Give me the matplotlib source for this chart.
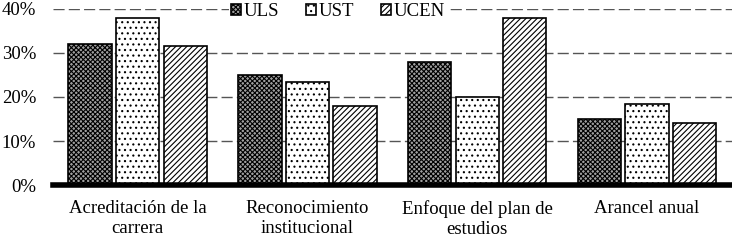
import matplotlib
matplotlib.use("Agg")
import matplotlib.pyplot as plt
import numpy as np

plt.rcParams['font.family'] = ['Liberation Serif', 'DejaVu Serif']
plt.rcParams['hatch.linewidth'] = 0.8

categories = ['Acreditación de la\ncarrera', 'Reconocimiento\ninstitucional',
              'Enfoque del plan de\nestudios', 'Arancel anual']
series_names = ['ULS', 'UST', 'UCEN']
uls = [32, 25, 28, 15]
ust = [38, 23.5, 20, 18.5]
ucen = [31.5, 18, 38, 14]
yticks = [0, 10, 20, 30, 40]

hatches = ['xxxxxxx', '...', '//////']
facecolors = ['#a0a0a0', 'white', 'white']

fig = plt.figure(figsize=(7.32, 2.4), dpi=100)
ax = fig.add_axes([0.072, 0.229, 0.928, 0.734])

x = np.arange(len(categories))
width = 0.255
step = 0.28
for i, (name, vals) in enumerate(zip(series_names, [uls, ust, ucen])):
    ax.bar(x + (i - 1) * step, vals, width, label=name, facecolor=facecolors[i],
           edgecolor='black', hatch=hatches[i], linewidth=1.2, zorder=3)

ax.set_xlim(-0.5, len(categories) - 0.5)
ax.set_ylim(0, 40)
ax.set_yticks(yticks)
ax.set_yticklabels([f'{t}%' for t in yticks], fontsize=13.5)
ax.set_xticks(x)
ax.set_xticklabels(categories, fontsize=13.5, linespacing=1.22)
ax.tick_params(axis='both', length=0)
ax.tick_params(axis='y', pad=12)
ax.tick_params(axis='x', pad=11)

for s in ['top', 'right', 'left']:
    ax.spines[s].set_visible(False)
ax.spines['bottom'].set_linewidth(4)
ax.spines['bottom'].set_zorder(4)

ax.yaxis.grid(True, linestyle=(0, (8, 3)), color='#555555', linewidth=1.0, zorder=0)
ax.set_axisbelow(True)

leg = ax.legend(loc='center', bbox_to_anchor=(0.42, 0.985), ncol=3, frameon=True,
                fontsize=13.5, handlelength=0.55, handleheight=0.55, handletextpad=0.15,
                columnspacing=1.4, borderpad=0.1, borderaxespad=0)
leg.get_frame().set_edgecolor('white')
leg.get_frame().set_facecolor('white')
leg.get_frame().set_alpha(1)
leg.get_frame().set_linewidth(0)

fig.savefig('out.png', dpi=100)
